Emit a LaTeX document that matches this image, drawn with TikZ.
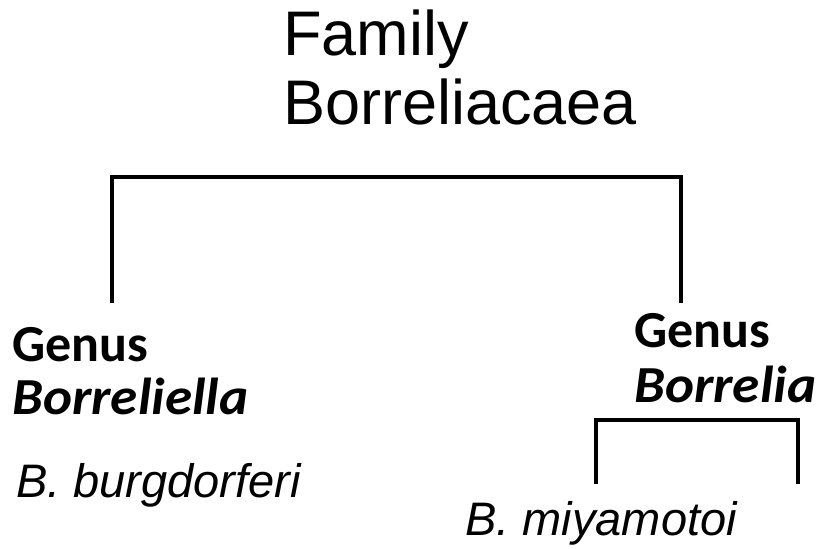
\documentclass[tikz,border=0pt]{standalone}
\usepackage{fontspec}
\setmainfont{Liberation Sans}
\newfontfamily\genusfont{Carlito}
\newfontfamily\genusitfont{Carlito}[FakeStretch=1.06]

\begin{document}
\begin{tikzpicture}[x=1pt,y=-1pt,
  branch/.style={line width=3.6pt,line cap=rect},
  title/.style={anchor=base west,inner sep=0pt,font=\fontsize{63}{69}\selectfont},
  genus/.style={anchor=base west,inner sep=0pt,font=\genusfont\bfseries\fontsize{52}{57}\selectfont},
  genusit/.style={genus,font=\genusitfont\bfseries\itshape\fontsize{52}{57}\selectfont},
  species/.style={anchor=base west,inner sep=0pt,font=\itshape\fontsize{47}{52}\selectfont}]
\useasboundingbox (0,0) rectangle (823,549);
\node[title] (fam1) at (283,55) {Family};
\node[title] (fam2) at (283,124) {Borreliacaea};
\node[genus] (gen1) at (12,361) {Genus};
\node[genusit] (gen1b) at (12,414) {Borreliella};
\node[genus] (gen2) at (634,347) {Genus};
\node[genusit] (gen2b) at (634,402) {Borrelia};
\node[species] (sp1) at (16,497) {B. burgdorferi};
\node[species] (sp2) at (465,535) {B. miyamotoi};
\coordinate (j1) at (112,301);
\coordinate (j2) at (681,301);
\coordinate (k1) at (596,482);
\coordinate (k2) at (798,482);
\draw[branch] (j1) -- ++(0,-124) -| (j2);
\draw[branch] (k1) -- ++(0,-62) -| (k2);
\end{tikzpicture}
\end{document}
